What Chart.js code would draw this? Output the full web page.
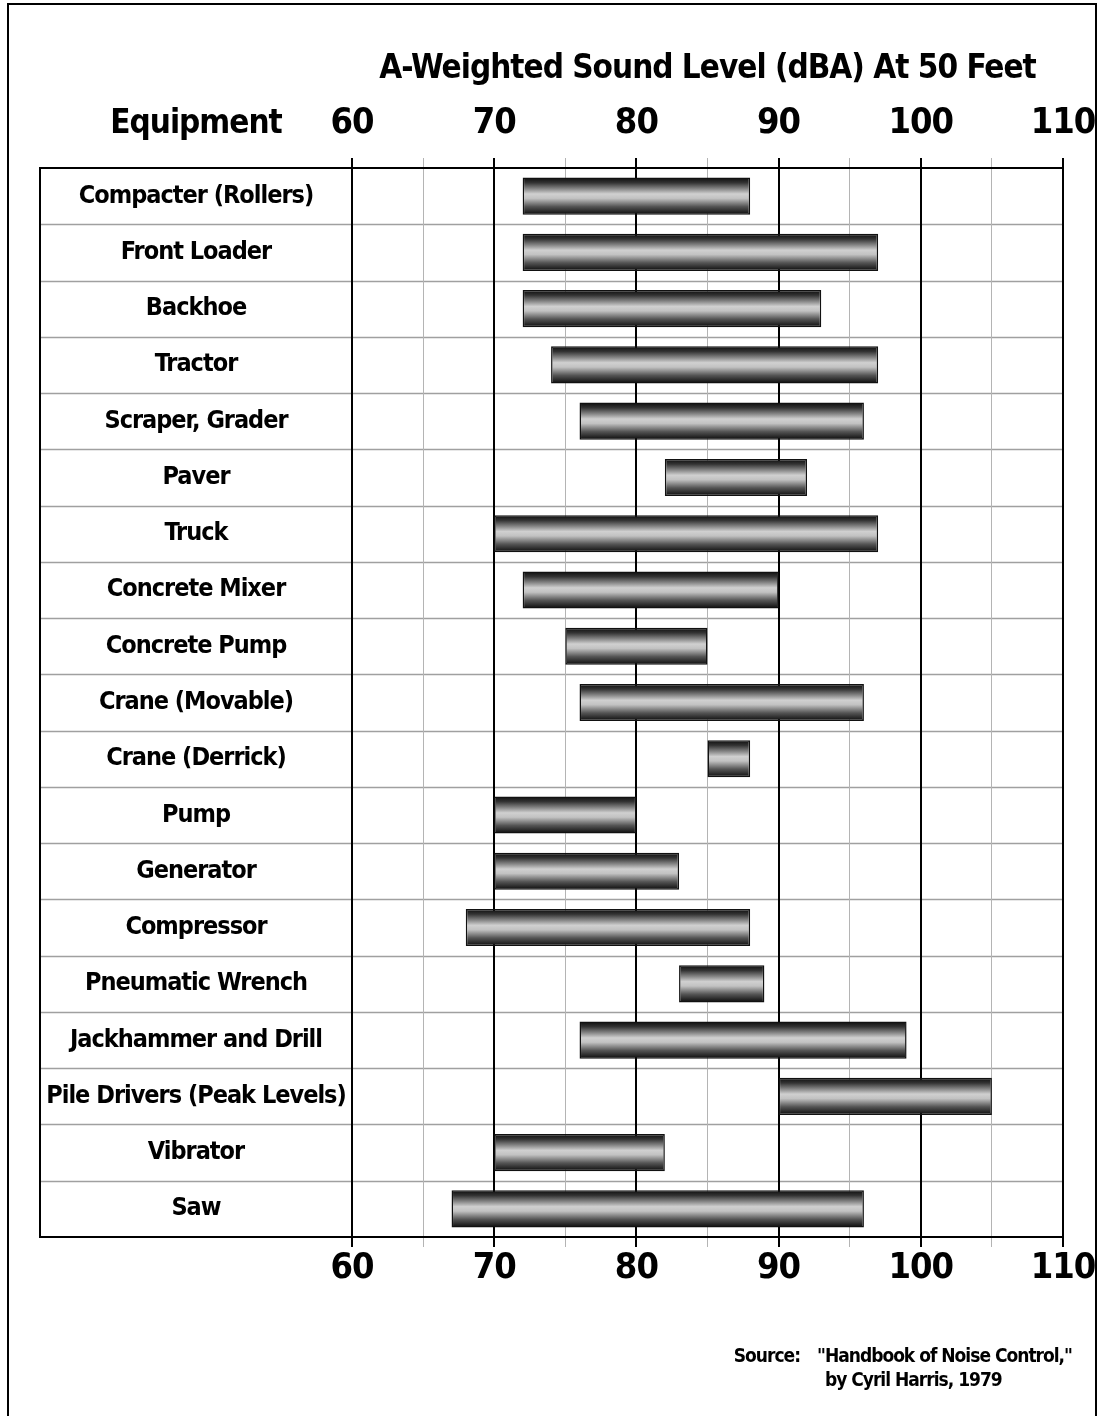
<!DOCTYPE html>
<html>
<head>
<meta charset="utf-8">
<script src="https://cdn.jsdelivr.net/npm/chart.js@4.4.1/dist/chart.umd.min.js"></script>
<style>
  html, body { margin: 0; padding: 0; background: #fff; }
  #wrap { position: relative; width: 1098px; height: 1416px; background: #fff; }
  #frame { position: absolute; left: 7px; top: 3px; right: 1px; bottom: -4px; border: 2px solid #000; pointer-events: none; }
</style>
</head>
<body>
<div id="wrap">
  <canvas id="c"></canvas>
  <div id="frame"></div>
</div>
<script>
// ---- data ----
const categories = [
  "Compacter (Rollers)", "Front Loader", "Backhoe", "Tractor", "Scraper, Grader",
  "Paver", "Truck", "Concrete Mixer", "Concrete Pump", "Crane (Movable)",
  "Crane (Derrick)", "Pump", "Generator", "Compressor", "Pneumatic Wrench",
  "Jackhammer and Drill", "Pile Drivers (Peak Levels)", "Vibrator", "Saw"
];
const lowLevels  = [72, 72, 72, 74, 76, 82, 70, 72, 75, 76, 85, 70, 70, 68, 83, 76, 90, 70, 67];
const highLevels = [88, 97, 93, 97, 96, 92, 97, 90, 85, 96, 88, 80, 83, 88, 89, 99, 105, 82, 96];
const tickValues = [60, 70, 80, 90, 100, 110];
const axisTitle = "A-Weighted Sound Level (dBA) At 50 Feet";
const columnTitle = "Equipment";
const sourceLabel = "Source:";
const sourceLine1 = "\"Handbook of Noise Control,\"";
const sourceLine2 = "by Cyril Harris, 1979";

// ---- styling ----
const FAM = '"DejaVu Sans Condensed", "Liberation Sans Narrow", "Liberation Sans", sans-serif';
const SPACING = '-1px';
const CAT_SIZE = 25, TICK_SIZE = 36, TITLE_SIZE = 33, HEAD_SIZE = 33, SRC_SIZE = 19;
const catFont = { family: FAM, size: CAT_SIZE, weight: 'bold', lineHeight: 1.2 };
const tickFont = { family: FAM, size: TICK_SIZE, weight: 'bold', lineHeight: 1 };
const LABEL_COL = 312;

// measure widest category to center labels in the label column
const mc = document.createElement('canvas').getContext('2d');
mc.letterSpacing = SPACING;
mc.font = 'bold ' + CAT_SIZE + 'px ' + FAM;
const widest = Math.max(...categories.map(c => mc.measureText(c).width));
const catPad = Math.max(0, LABEL_COL / 2 - widest / 2);

const ranges = lowLevels.map((l, i) => [l, highLevels[i]]);
const BAR_PCT = 0.66;

function barGradient(ctx) {
  const chart = ctx.chart;
  const ys = chart.scales && chart.scales.y;
  if (!chart.chartArea || !ys) return '#888';
  const yc = ys.getPixelForValue(ctx.dataIndex);
  const step = Math.abs(ys.getPixelForValue(1) - ys.getPixelForValue(0));
  const h = step * BAR_PCT / 2;
  const g = chart.ctx.createLinearGradient(0, yc - h, 0, yc + h);
  g.addColorStop(0, '#0c0c0c');
  g.addColorStop(0.14, '#333');
  g.addColorStop(0.3, '#858585');
  g.addColorStop(0.44, '#d0d0d0');
  g.addColorStop(0.56, '#c2c2c2');
  g.addColorStop(0.78, '#555');
  g.addColorStop(1, '#0a0a0a');
  return g;
}

const isMajor = (c) => c.tick && Math.round(c.tick.value) % 10 === 0;
const gridColor = (c) => isMajor(c) ? '#000' : '#b4b4b4';
const gridWidth = (c) => isMajor(c) ? 2 : 1;
const tickCb = (v) => tickValues.includes(v) ? String(v) : '';
const noSidePad = (s) => { s.paddingLeft = 0; s.paddingRight = 0; };

const spacingPlugin = {
  id: 'spacing',
  beforeUpdate(chart) { chart.ctx.letterSpacing = SPACING; },
  beforeLayout(chart) { chart.ctx.letterSpacing = SPACING; },
  beforeDraw(chart) { chart.ctx.letterSpacing = SPACING; }
};

const tablePlugin = {
  id: 'tableBox',
  beforeDraw(chart) {
    const ys = chart.scales.y, ca = chart.chartArea, ctx = chart.ctx;
    const step = ys.getPixelForValue(1) - ys.getPixelForValue(0);
    ctx.save();
    ctx.strokeStyle = '#a0a0a0';
    ctx.lineWidth = 1.5;
    for (let i = 1; i < categories.length; i++) {
      const y = Math.round(ys.getPixelForValue(i) - step / 2) + 0.5;
      ctx.beginPath(); ctx.moveTo(ys.left, y); ctx.lineTo(ca.right, y); ctx.stroke();
    }
    ctx.restore();
  },
  afterDraw(chart) {
    const ys = chart.scales.y, x2 = chart.scales.x2, ca = chart.chartArea, ctx = chart.ctx;
    ctx.save();
    ctx.letterSpacing = SPACING;
    ctx.strokeStyle = '#000';
    ctx.lineWidth = 2;
    ctx.beginPath();
    ctx.moveTo(ca.right, ca.top); ctx.lineTo(ys.left, ca.top);
    ctx.lineTo(ys.left, ca.bottom); ctx.lineTo(ca.right, ca.bottom);
    ctx.stroke();
    // column heading
    ctx.fillStyle = '#000';
    ctx.font = 'bold ' + HEAD_SIZE + 'px ' + FAM;
    ctx.textAlign = 'center';
    ctx.textBaseline = 'middle';
    const tl = x2.options.grid.tickLength, pad = x2.options.ticks.padding;
    ctx.fillText(columnTitle, (ys.left + ys.right) / 2, x2.bottom - tl - pad - TICK_SIZE / 2);
    // source note
    ctx.font = 'bold ' + SRC_SIZE + 'px ' + FAM;
    ctx.textAlign = 'left';
    ctx.textBaseline = 'middle';
    const rightEdge = ca.right + 9;
    const qx = rightEdge - ctx.measureText(sourceLine1).width;
    ctx.fillText(sourceLine1, qx, 1357);
    ctx.textAlign = 'right';
    ctx.fillText(sourceLabel, qx - 17, 1357);
    ctx.textAlign = 'left';
    ctx.fillText(sourceLine2, qx + ctx.measureText('"').width, 1381);
    ctx.restore();
  }
};

new Chart(document.getElementById('c'), {
  type: 'bar',
  data: {
    labels: categories,
    datasets: [{
      data: ranges,
      backgroundColor: barGradient,
      borderColor: '#111',
      borderWidth: 1.5,
      borderSkipped: false,
      barPercentage: BAR_PCT,
      categoryPercentage: 1
    }]
  },
  options: {
    indexAxis: 'y',
    responsive: true,
    maintainAspectRatio: false,
    animation: false,
    layout: { padding: { left: 40, right: 35, top: 53, bottom: 125 } },
    plugins: { legend: { display: false }, tooltip: { enabled: false }, title: { display: false } },
    scales: {
      y: {
        type: 'category',
        position: 'left',
        afterFit(s) { s.width = LABEL_COL; s.paddingTop = 0; s.paddingBottom = 0; },
        grid: { display: false, drawTicks: false },
        border: { display: false },
        ticks: { font: catFont, color: '#000', crossAlign: 'center', padding: catPad, autoSkip: false }
      },
      x: {
        type: 'linear',
        position: 'bottom',
        min: 60, max: 110,
        afterFit: noSidePad,
        grid: { color: gridColor, tickColor: gridColor, lineWidth: gridWidth, drawTicks: true, tickLength: 10 },
        border: { display: true, color: '#000', width: 2 },
        ticks: { stepSize: 5, callback: tickCb, font: tickFont, color: '#000', padding: 4, autoSkip: false, maxRotation: 0 }
      },
      x2: {
        type: 'linear',
        position: 'top',
        min: 60, max: 110,
        afterFit: noSidePad,
        grid: { color: gridColor, tickColor: gridColor, lineWidth: gridWidth, drawOnChartArea: false, drawTicks: true, tickLength: 10 },
        border: { display: true, color: '#000', width: 2 },
        ticks: { stepSize: 5, callback: tickCb, font: tickFont, color: '#000', padding: 16, autoSkip: false, maxRotation: 0 },
        title: { display: true, text: axisTitle, color: '#000', font: { family: FAM, size: TITLE_SIZE, weight: 'bold', lineHeight: 1 }, padding: { top: 0, bottom: 4 } }
      }
    }
  },
  plugins: [spacingPlugin, tablePlugin]
});
</script>
</body>
</html>
